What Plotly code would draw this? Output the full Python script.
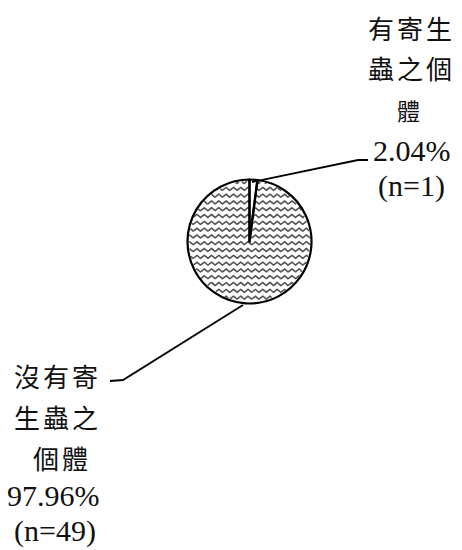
import numpy as np
import plotly.graph_objects as go

# ---- data ----
labels = ["有寄生蟲之個體", "沒有寄生蟲之個體"]
percents = [2.04, 97.96]
counts = [1, 49]

# ---- layout constants (pixels) ----
W, H = 462, 550
CX, CY, R = 249.5, 241.5, 62

LATIN = "Liberation Serif, Times New Roman, serif"
CJK = "Noto Sans CJK TC, Noto Sans CJK JP, sans-serif"

fig = go.Figure()

# wavy texture behind the (transparent) large slice
xs = np.arange(CX - R, CX + R + 0.5, 0.4)
wx, wy = [], []
spacing, lam, amp = 6.8, 7.3, 1.5
y0 = CY - R + 2.5
while y0 < CY + R:
    ys = y0 + amp * np.sin(2 * np.pi * (xs - CX) / lam)
    inside = (xs - CX) ** 2 + (ys - CY) ** 2 < (R - 1.2) ** 2
    for x, y, ok in zip(xs, ys, inside):
        wx.append(float(x))
        wy.append(float(y) if ok else None)
    wx.append(None)
    wy.append(None)
    y0 += spacing

fig.add_trace(go.Scatter(x=wx, y=wy, mode="lines", connectgaps=False,
                         line=dict(color="#555555", width=1.6),
                         hoverinfo="skip", showlegend=False))

fig.add_trace(go.Pie(
    values=percents, labels=labels, sort=False, direction="clockwise", rotation=0,
    textinfo="none", hoverinfo="label+percent", showlegend=False,
    marker=dict(colors=["white", "rgba(0,0,0,0)"], line=dict(color="black", width=2.2)),
    domain=dict(x=[(CX - R) / W, (CX + R) / W],
                y=[(H - CY - R) / H, (H - CY + R) / H]),
))

# leader lines
fig.add_shape(type="path", xref="x", yref="y",
              path="M 252,182 L 358,160 L 368,160",
              line=dict(color="black", width=1.8))
fig.add_shape(type="path", xref="x", yref="y",
              path="M 243,305 L 123,380 L 110,381",
              line=dict(color="black", width=1.8))


def chunks(s, n=3):
    return [s[i:i + n] for i in range(0, len(s), n)]


label_pos = [
    dict(x=[411, 411, 410, 412, 411], y=[27, 67, 110, 150, 186], size=[26, 26, 23]),
    dict(x=[57, 57, 62, 53, 55], y=[375, 416, 457, 495, 531], size=[26, 26, 26]),
]

for lab, pct, n, pos in zip(labels, percents, counts, label_pos):
    cjk_lines = chunks(lab)
    texts = cjk_lines + [f"{pct:.2f}%", f"(n={n})"]
    for i, t in enumerate(texts):
        is_cjk = i < len(cjk_lines)
        if is_cjk:
            txt = f'<span style="letter-spacing:3px">{t}</span>'
            font = dict(family=CJK, size=pos["size"][i], color="#111111")
        else:
            txt = t
            font = dict(family=LATIN, size=30, color="#111111")
        fig.add_annotation(x=pos["x"][i], y=pos["y"][i], xref="x", yref="y",
                           text=txt, showarrow=False, font=font,
                           xanchor="center", yanchor="middle")

fig.update_layout(
    width=W, height=H, margin=dict(l=0, r=0, t=0, b=0),
    paper_bgcolor="white", plot_bgcolor="white",
    xaxis=dict(range=[0, W], visible=False, fixedrange=True),
    yaxis=dict(range=[H, 0], visible=False, fixedrange=True),
    showlegend=False,
)

fig.write_html("out.html", config={"displayModeBar": False},
               post_script="document.body.style.margin='0';document.body.style.overflow='hidden';")
